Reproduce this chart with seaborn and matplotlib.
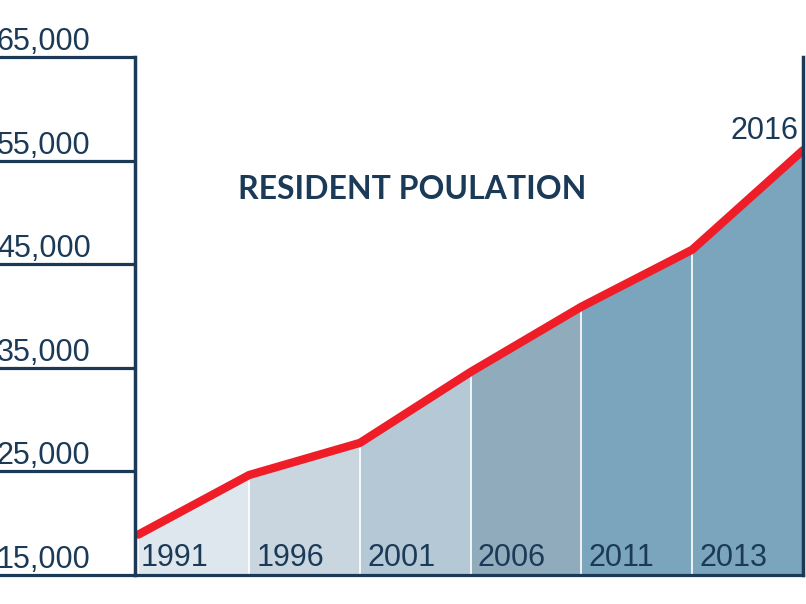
import numpy as np
import pandas as pd
import matplotlib
matplotlib.use("Agg")
import matplotlib.pyplot as plt
import matplotlib.transforms as mtransforms
import seaborn as sns

years = ["1991", "1996", "2001", "2006", "2011", "2013", "2016"]
population = [18900, 24650, 27750, 34600, 40900, 46400, 56000]
fill_colors = ["#dfe7ee", "#c9d6e0", "#b5c8d5", "#90abbc", "#7ba5bc", "#7aa5bd"]
y_ticks = [15000, 25000, 35000, 45000, 55000, 65000]
y_tick_labels = ["15,000", "25,000", "35,000", "45,000", "55,000", "65,000"]
title = "RESIDENT POULATION"

navy = "#1b3a57"
red = "#ee1d27"

sns.set_style("white")
plt.rcParams["font.family"] = ["Liberation Sans", "DejaVu Sans"]

df = pd.DataFrame({"idx": np.arange(len(years)), "year": years, "pop": population})

fig = plt.figure(figsize=(8.06, 6.04), dpi=100)
ax = fig.add_axes([135 / 806, 1 - 575 / 604, (803 - 135) / 806, (575 - 57) / 604])

ymin = y_ticks[0]
# filled segments
for i in range(len(years) - 1):
    xs = [df.idx[i], df.idx[i + 1]]
    ys = [df["pop"][i], df["pop"][i + 1]]
    ax.fill_between(xs, [ymin, ymin], ys, color=fill_colors[i], lw=0, zorder=1)
    if i > 0:
        ax.vlines(df.idx[i], ymin, df["pop"][i], color="white", lw=1.2, zorder=2)

sns.lineplot(data=df, x="idx", y="pop", color=red, lw=6, ax=ax, zorder=5,
             solid_capstyle="round", solid_joinstyle="round")

ax.set_xlim(-0.03, 6.0)
ax.set_ylim(15000, 65000)
ax.set_xlabel("")
ax.set_ylabel("")
ax.set_xticks([])
ax.set_yticks(y_ticks)
ax.set_yticklabels([])
ax.tick_params(axis="y", left=True, direction="out", length=98, width=2.3, color=navy, pad=0)

for s in ["left", "bottom", "right"]:
    ax.spines[s].set_visible(True)
    ax.spines[s].set_color(navy)
    ax.spines[s].set_linewidth(2.5)
    ax.spines[s].set_zorder(6)
ax.spines["top"].set_visible(False)
ax.spines["bottom"].set_linewidth(2.3)

# y tick labels above the tick lines, left edge of figure
trans = mtransforms.blended_transform_factory(fig.transFigure, ax.transData)
for v, lab in zip(y_ticks, y_tick_labels):
    t = ax.text(-3 / 806, v, lab, ha="left", va="baseline",
                fontsize=22, color=navy, clip_on=False)
    t.set_transform(trans + mtransforms.ScaledTranslation(0, 7 / 100, fig.dpi_scale_trans))

# year labels in segments
for i in range(len(years) - 1):
    off = 0.02 if i == 0 else 0.065
    t = ax.text(i + off, ymin, years[i], ha="left", va="baseline", fontsize=22, color=navy, zorder=7)
    t.set_transform(ax.transData + mtransforms.ScaledTranslation(0, 9 / 100, fig.dpi_scale_trans))

# last year above endpoint
t = ax.text(6, population[-1], years[-1], ha="right", va="baseline", fontsize=22, color=navy, zorder=7)
t.set_transform(ax.transData + mtransforms.ScaledTranslation(-5 / 100, 11 / 100, fig.dpi_scale_trans))

fig.text(412 / 806, 1 - 199 / 604, title, ha="center", va="baseline", fontsize=23,
         fontweight="bold", color=navy, family=["Lato", "DejaVu Sans"])

fig.savefig("out.png", dpi=100)
